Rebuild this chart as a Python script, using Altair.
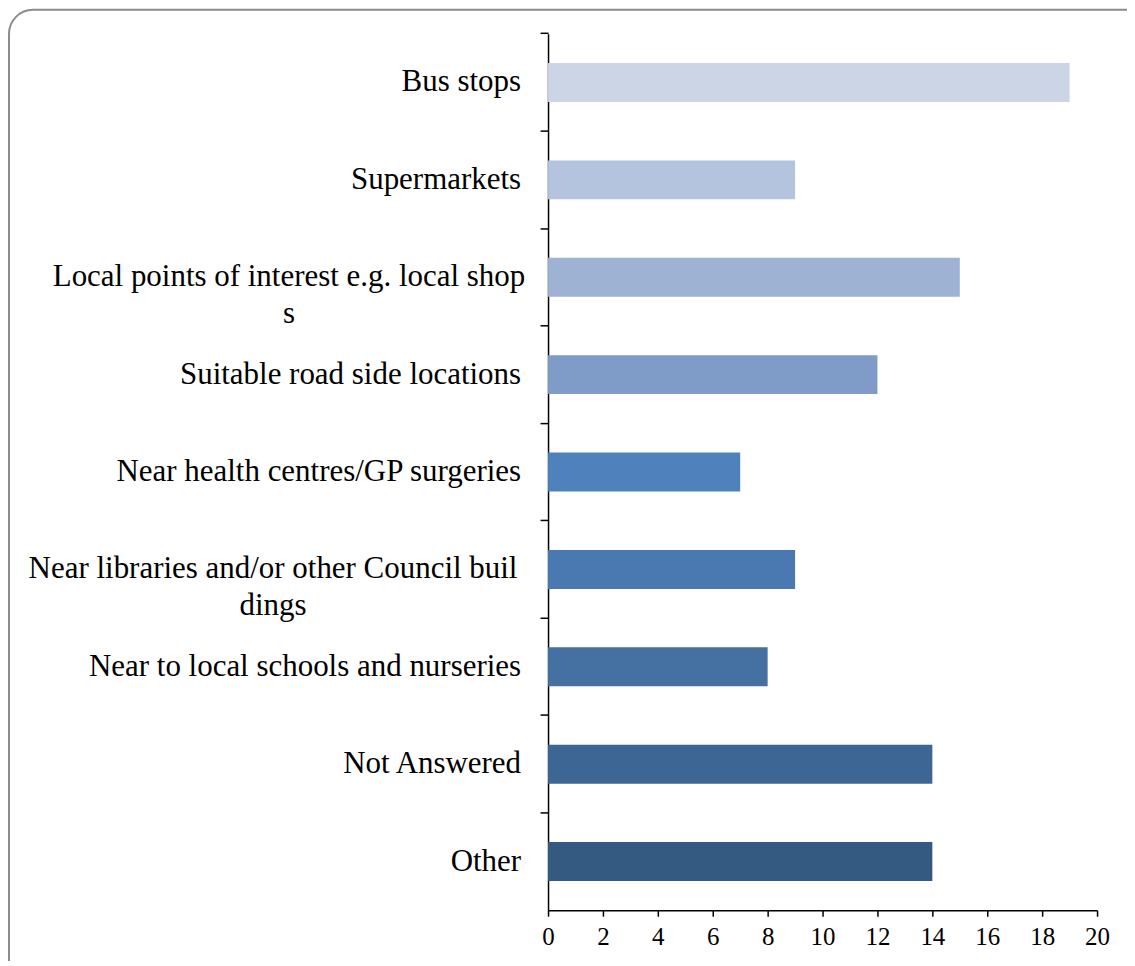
import altair as alt
import pandas as pd

categories = [
    "Bus stops",
    "Supermarkets",
    "Local points of interest e.g. local shop|s",
    "Suitable road side locations",
    "Near health centres/GP surgeries",
    "Near libraries and/or other Council buil|dings",
    "Near to local schools and nurseries",
    "Not Answered",
    "Other",
]
values = [19, 9, 15, 12, 7, 9, 8, 14, 14]
colors = ["#cbd5e6", "#b4c3de", "#9eb2d4", "#7f9cc8", "#4f81bd",
          "#4a78b0", "#4570a2", "#3d6695", "#355a82"]
x_ticks = [0, 2, 4, 6, 8, 10, 12, 14, 16, 18, 20]

df = pd.DataFrame({"category": categories, "value": values})
FONT = "Liberation Serif"

y_enc = alt.Y(
    "category:N",
    sort=categories,
    scale=alt.Scale(paddingInner=0.6, paddingOuter=0.3),
    axis=alt.Axis(
        title=None, grid=False, domainColor="black", domainWidth=1.5,
        tickColor="black", tickWidth=1.5, tickSize=8, bandPosition=-0.75,
        labels=False,
    ),
)

bars = alt.Chart(df).mark_bar().encode(
    x=alt.X(
        "value:Q",
        scale=alt.Scale(domain=[0, 20], nice=False),
        axis=alt.Axis(values=x_ticks, title=None, grid=False, domainColor="black",
                      domainWidth=1.5, tickColor="black", tickWidth=1.5, tickSize=6,
                      labelFont=FONT, labelFontSize=25, labelColor="black",
                      labelPadding=8, labelFlush=False),
    ),
    y=y_enc,
    color=alt.Color("category:N", scale=alt.Scale(domain=categories, range=colors), legend=None),
)

labels = alt.Chart(df).transform_calculate(
    lines="split(datum.category, '|')"
).mark_text(
    font=FONT, fontSize=31, lineHeight=37, baseline="middle", color="black",
    align=alt.ExprRef("indexof(datum.category, '|') >= 0 ? 'center' : 'right'"),
    dx=alt.ExprRef("indexof(datum.category, 'Local points') >= 0 ? -259.5 : "
                   "(indexof(datum.category, 'Near libraries') >= 0 ? -275.5 : -27)"),
).encode(
    y=alt.Y("category:N", sort=categories),
    x=alt.value(0),
    text="lines:N",
)

border = alt.Chart(pd.DataFrame({"k": [0]})).mark_rect(
    filled=False, stroke="#8c8c8c", strokeWidth=2, cornerRadius=24
).encode(x=alt.value(-540), x2=alt.value(640), y=alt.value(-24), y2=alt.value(980))

chart = alt.layer(border, bars, labels).properties(
    width=550, height=878,
    padding={"left": 541, "top": 25, "right": 30, "bottom": 50},
    autosize=alt.AutoSizeParams(type="none"),
).configure_view(stroke=None)

chart.save("out.html", embed_options={"renderer": "svg", "actions": False})
